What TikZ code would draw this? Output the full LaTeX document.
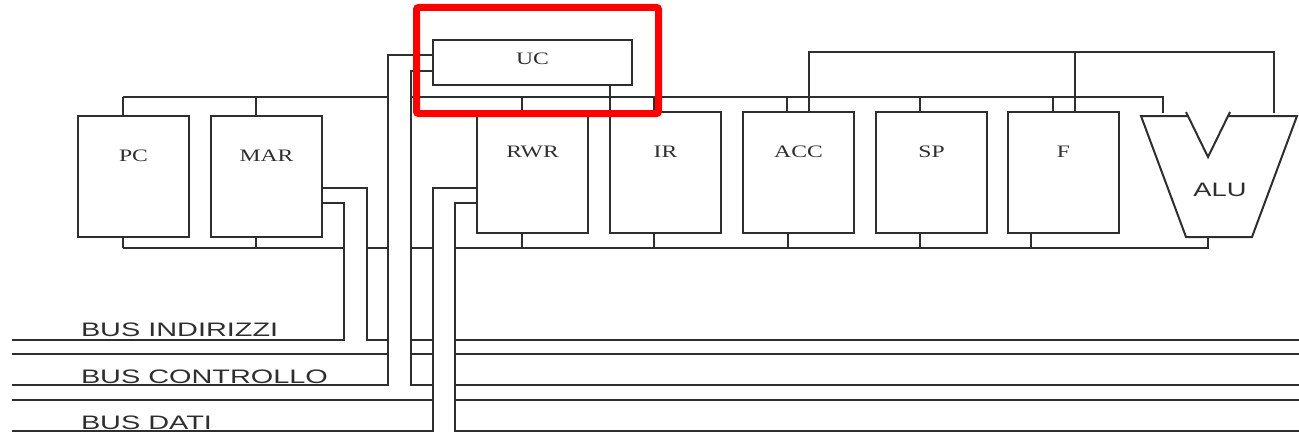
\documentclass[tikz,border=0pt]{standalone}
\usepackage{fontspec}
\newfontfamily\regfont{Liberation Serif}
\newfontfamily\busfont{Liberation Sans}
\begin{document}
\begin{tikzpicture}[x=1pt,y=-1pt,line width=2pt,color=black!82,
  reg/.style={draw,outer sep=0pt,inner sep=0pt,minimum width=111pt,minimum height=121pt,anchor=north west},
  regl/.style={font=\regfont\fontsize{17.5pt}{17.5pt}\selectfont,anchor=base,inner sep=0pt},
  busl/.style={font=\busfont\fontsize{19.5pt}{19.5pt}\selectfont,anchor=base west,inner sep=0pt},
  hilite/.style={draw=red,line width=7pt,rounded corners=2pt,inner sep=0pt,outer sep=0pt,anchor=north west}]
\useasboundingbox (0,0) rectangle (1299,444);
% registers
\node[reg] (pc)  at (78,116) {};
\node[reg] (mar) at (211,116) {};
\node[reg] (rwr) at (477,112) {};
\node[reg] (ir)  at (610,112) {};
\node[reg] (acc) at (743,112) {};
\node[reg] (sp)  at (876,112) {};
\node[reg] (f)   at (1008,112) {};
\node[draw,outer sep=0pt,inner sep=0pt,minimum width=199pt,minimum height=45pt,anchor=north west] (uc) at (433,40) {};
% labels
\node[regl] (pcl)  at ([yshift=-45pt]pc.north)  {\scalebox{1.35}[1]{PC}};
\node[regl] (marl) at ([yshift=-45pt]mar.north) {\scalebox{1.35}[1]{MAR}};
\node[regl] (rwrl) at ([yshift=-45pt]rwr.north) {\scalebox{1.35}[1]{RWR}};
\node[regl] (irl)  at ([yshift=-45pt]ir.north)  {\scalebox{1.35}[1]{IR}};
\node[regl] (accl) at ([yshift=-45pt]acc.north) {\scalebox{1.35}[1]{ACC}};
\node[regl] (spl)  at ([yshift=-45pt]sp.north)  {\scalebox{1.35}[1]{SP}};
\node[regl] (fl)   at ([yshift=-45pt]f.north)   {\scalebox{1.35}[1]{F}};
\node[regl] (ucl)  at ([yshift=-25pt]uc.north)  {\scalebox{1.35}[1]{UC}};
% ALU
\draw (1188,116) -- (1141,116) -- (1186,237) -- (1252,237) -- (1297,116) -- (1228,116);
\draw (1186,112) -- (1208,157) -- (1230,112);
\node[busl,anchor=base] (alu) at (1220,196) {\scalebox{1.4}[1]{ALU}};
\coordinate (aluL) at (1163,113);
\coordinate (aluR) at (1274,113);
\coordinate (aluB) at (1208,237);
% bus levels
\coordinate (tb) at (0,97);
\coordinate (bb) at (0,248);
\coordinate (fb) at (0,52);
% register stubs
\foreach \n/\a/\b in {pc/45/45,mar/45/45,rwr/45/45,ir/44/44,acc/44/45,sp/44/44,f/45/23}{
  \coordinate (\n-t) at ([xshift=\a pt]\n.north west);
  \coordinate (\n-b) at ([xshift=\b pt]\n.south west);
  \draw (\n-t) -- (\n-t |- tb);
  \draw (\n-b) -- (\n-b |- bb);
}
% internal top bus
\draw (pc-t |- tb) -- (388,97);
\draw (411,97) -- (aluL |- tb) -- (aluL);
% internal bottom bus
\draw (pc-b |- bb) -- (344,248);
\draw (367,248) -- (388,248);
\draw (411,248) -- (433,248);
\draw (455,248) -- (aluB |- bb) -- (aluB);
% ALU feedback
\coordinate (acc-f) at ([xshift=66pt]acc.north west);
\coordinate (f-f) at ([xshift=67pt]f.north west);
\draw (acc-f) -- (acc-f |- fb) -- (aluR |- fb) -- (aluR);
\draw (f-f) -- (f-f |- fb);
% UC -> IR
\draw (ir.north west) -- (ir.north west |- uc.south);
% MAR -> bus indirizzi
\draw ([yshift=-72pt]mar.north east) -- (367,188) -- (367,340) -- (388,340);
\draw ([yshift=-87pt]mar.north east) -- (344,203) -- (344,340) -- (12,340);
% UC -> bus controllo
\draw ([yshift=-15pt]uc.north west) -- (388,55) -- (388,385) -- (12,385);
\draw ([yshift=-31pt]uc.north west) -- (411,71) -- (411,385) -- (433,385);
% RWR -> bus dati
\draw ([yshift=-76pt]rwr.north west) -- (433,188) -- (433,431) -- (12,431);
\draw ([yshift=-91pt]rwr.north west) -- (455,203) -- (455,431) -- (1299,431);
% remaining bus segments
\draw (411,340) -- (433,340);
\draw (455,340) -- (1299,340);
\draw (12,354) -- (388,354);
\draw (411,354) -- (433,354);
\draw (455,354) -- (1299,354);
\draw (455,385) -- (1299,385);
\draw (12,400) -- (433,400);
\draw (455,400) -- (1299,400);
% bus labels
\node[busl] (bi) at (80,336) {\scalebox{1.48}[1]{BUS INDIRIZZI}};
\node[busl] (bc) at (80,383) {\scalebox{1.48}[1]{BUS CONTROLLO}};
\node[busl] (bd) at (80,429) {\scalebox{1.48}[1]{BUS DATI}};
% highlight
\node[hilite,minimum width=242pt,minimum height=106pt] (hl) at (416.5,7.5) {};
\end{tikzpicture}
\end{document}
